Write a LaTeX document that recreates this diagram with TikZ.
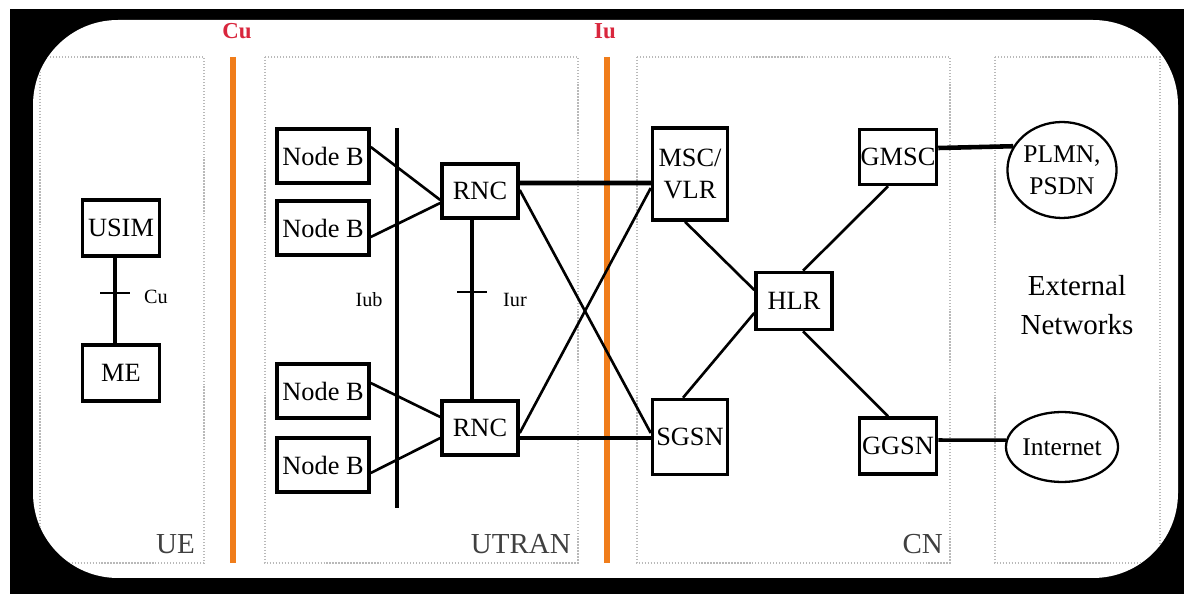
\documentclass[tikz,border=0pt]{standalone}
\usepackage{fontspec}
\setmainfont{Liberation Serif}
\usetikzlibrary{shapes.geometric}

\definecolor{ifline}{HTML}{F07D1A}
\definecolor{iflabel}{HTML}{D9263D}

\begin{document}
\begin{tikzpicture}[x=0.02cm,y=-0.02cm,
    elem/.style={draw,line width=2pt,inner sep=0pt,align=center,font=\fontsize{15}{18.5}\selectfont},
    net/.style={draw,ellipse,line width=1.3pt,inner sep=0pt,align=center,font=\fontsize{14.5}{18}\selectfont},
    link/.style={line width=1.5pt},
    medium/.style={line width=2pt},
    heavy/.style={line width=2.6pt},
    zonebox/.style={draw=gray!55,densely dotted,line width=0.7pt},
    iface/.style={draw=ifline,line width=3.4pt},
    ifname/.style={text=iflabel,font=\bfseries\fontsize{13}{13}\selectfont},
    small/.style={font=\fontsize{11.5}{12}\selectfont},
    area/.style={text=black!75,anchor=base east,font=\fontsize{16.5}{17}\selectfont}]
        % pixel grid, 1184 x 594, y downwards
        \useasboundingbox (0,0) rectangle (1184,594);
        \fill[white] (0,0) rectangle (1184,594);
        \fill[black] (10,9) rectangle (1184,594);
        \fill[white,rounded corners=1.7cm] (33,20) rectangle (1178,578);

        % domains (cut by the rounded frame) and interfaces
        \begin{scope}
            \clip[rounded corners=1.7cm] (33,20) rectangle (1178,578);
            \draw[zonebox] (40,57) rectangle (204,563);
            \draw[zonebox] (265,57) rectangle (578,563);
            \draw[zonebox] (637,57) rectangle (950,563);
            \draw[zonebox] (995,57) rectangle (1160,563);
        \end{scope}
        \draw[iface] (233,57) -- (233,563);
        \draw[iface] (607,57) -- (607,563);
        \node[ifname] (cuname) at (237,31) {Cu};
        \node[ifname] (iuname) at (605,31) {Iu};
        \node[area] (uelbl) at (201,554) {UE};
        \node[area] (utranlbl) at (577,554) {UTRAN};
        \node[area] (cnlbl) at (949,554) {CN};

        % UE
        \node[elem,minimum width=1.54cm,minimum height=1.12cm] (usim) at (121,228) {USIM};
        \node[elem,minimum width=1.54cm,minimum height=1.12cm] (me) at (121,373) {ME};
        \draw[heavy] ([xshift=-0.12cm]usim.south) -- ([xshift=-0.12cm]me.north);
        \coordinate (cutick) at (115,293);
        \draw[link] ([xshift=-0.3cm]cutick) -- ([xshift=0.3cm]cutick);
        \node[small,anchor=west] (culbl) at (138,297) {Cu};

        % UTRAN
        \foreach \n/\y in {1/156,2/228,3/391,4/465}
            \node[elem,minimum width=1.84cm,minimum height=1.08cm] (nb\n) at (323,\y) {Node B};
        \node[elem,minimum width=1.52cm,minimum height=1.08cm] (rnc1) at (480,191) {RNC};
        \node[elem,minimum width=1.52cm,minimum height=1.08cm] (rnc2) at (480,428) {RNC};
        \coordinate (iubtop) at (397,128);
        \coordinate (iubbot) at (397,508);
        \draw[heavy] (iubtop) -- (iubbot);
        \node[small] (iublbl) at (369,300) {Iub};
        \draw[heavy] ([xshift=-0.16cm]rnc1.south) -- ([xshift=-0.16cm]rnc2.north);
        \coordinate (iurtick) at (472,292);
        \draw[link] ([xshift=-0.3cm]iurtick) -- ([xshift=0.3cm]iurtick);
        \node[small] (iurlbl) at (515,300) {Iur};
        \draw[link] ([yshift=0.18cm]nb1.east) -- ([yshift=-0.18cm]rnc1.west);
        \draw[link] ([yshift=-0.18cm]nb2.east) -- ([yshift=-0.24cm]rnc1.west);
        \draw[link] ([yshift=0.16cm]nb3.east) -- ([yshift=0.22cm]rnc2.west);
        \draw[link] ([yshift=-0.16cm]nb4.east) -- ([yshift=-0.2cm]rnc2.west);

        % CN
        \node[elem,minimum width=1.5cm,minimum height=1.84cm] (msc) at (690,174) {MSC/\\VLR};
        \node[elem,minimum width=1.5cm,minimum height=1.5cm] (sgsn) at (690,437) {SGSN};
        \node[elem,minimum width=1.52cm,minimum height=1.14cm] (hlr) at (794,301) {HLR};
        \node[elem,minimum width=1.54cm,minimum height=1.1cm] (gmsc) at (898,157) {GMSC};
        \node[elem,minimum width=1.54cm,minimum height=1.12cm] (ggsn) at (898,446) {GGSN};
        \draw[heavy] ([yshift=0.16cm]rnc1.east) -- ([yshift=-0.18cm]msc.west);
        \draw[link] ([yshift=0.02cm]rnc1.east) -- ([yshift=0.08cm]sgsn.west);
        \draw[link] ([yshift=-0.1cm]rnc2.east) -- ([yshift=-0.28cm]msc.west);
        \draw[medium] ([yshift=-0.2cm]rnc2.east) -- ([yshift=-0.02cm]sgsn.west);
        \draw[link] ([xshift=-0.1cm]msc.south) -- ([yshift=0.22cm]hlr.west);
        \draw[link] ([xshift=-0.14cm]sgsn.north) -- ([yshift=-0.24cm]hlr.west);
        \draw[link] ([xshift=-0.2cm]gmsc.south) -- ([xshift=0.18cm]hlr.north);
        \draw[link] ([xshift=-0.2cm]ggsn.north) -- ([xshift=0.18cm]hlr.south);

        % external networks
        \node[net,minimum width=2.08cm,minimum height=1.92cm] (plmn) at (1062,170) {PLMN,\\PSDN};
        \node[net,minimum width=2.2cm,minimum height=1.4cm] (inet) at (1062,447) {Internet};
        \node[align=center,font=\fontsize{16.5}{22}\selectfont] (extlbl) at (1077,305) {External\\Networks};
        \draw[heavy] ([yshift=0.18cm]gmsc.east) -- (plmn.154);
        \draw[medium] ([yshift=0.12cm]ggsn.east) -- (inet.173);
    \end{tikzpicture}
\end{document}
